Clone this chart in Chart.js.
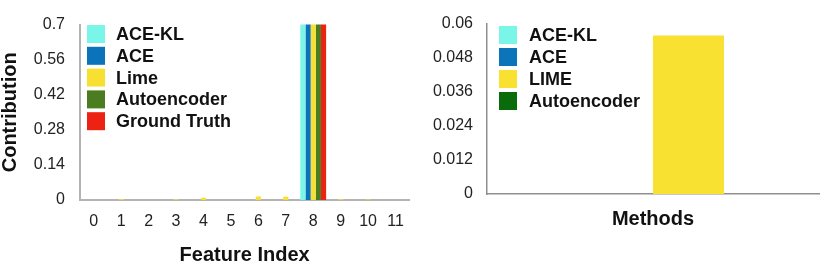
<!DOCTYPE html>
<html><head><meta charset="utf-8">
<script src="https://cdn.jsdelivr.net/npm/chart.js@4.4.0/dist/chart.umd.min.js"></script>
<style>
html,body{margin:0;padding:0;background:#fff;}
#wrap{position:relative;width:830px;height:276px;overflow:hidden;background:#fff;}
.box{position:absolute;top:0;height:276px;}
#left{left:0;width:416px;}
#right{left:415px;width:415px;}
</style></head><body>
<div id="wrap">
  <div class="box" id="left"><canvas id="c1" width="416" height="276"></canvas></div>
  <div class="box" id="right"><canvas id="c2" width="415" height="276"></canvas></div>
</div>
<script>
// ---- Left chart data ----
const featureIndex = ['0','1','2','3','4','5','6','7','8','9','10','11'];
const aceKL       = [0,0,0,0,0,0,0,0,1,0,0,0];
const ace         = [0,0,0,0,0,0,0,0,1,0,0,0];
const lime        = [0,0.003,0,0.003,0.009,0,0.014,0.013,1,0.003,0.002,0];
const autoencoder = [0,0,0,0,0,0,0,0,1,0,0,0];
const groundTruth = [0,0,0,0,0,0,0,0,1,0,0,0];
const contributionTicks = ['0','0.14','0.28','0.42','0.56','0.7'];

// ---- Right chart data ----
const methodsCategory   = [''];
const methodAceKL       = [0];
const methodAce         = [0];
const methodLime        = [0.0558];
const methodAutoencoder = [0];
const methodTicks = ['0','0.012','0.024','0.036','0.048','0.06'];

const FONT = '"Liberation Sans", Arial, Helvetica, sans-serif';
Chart.defaults.font.family = FONT;

const insideLegend = {
  id: 'insideLegend',
  afterDraw(chart, args, opts) {
    const ctx = chart.ctx;
    ctx.save();
    ctx.font = 'bold 18px ' + FONT;
    ctx.textBaseline = 'middle';
    ctx.textAlign = 'left';
    chart.data.datasets.forEach((ds, i) => {
      const y = opts.y + i * opts.step;
      ctx.fillStyle = ds.backgroundColor;
      ctx.fillRect(opts.x, y, opts.box, opts.box);
      ctx.fillStyle = '#111';
      ctx.fillText(ds.label, opts.textX, y + opts.box / 2 + 1);
    });
    ctx.restore();
  }
};

const axisBase = (color, width) => ({
  grid: { display: false, drawTicks: false },
  border: { display: true, color: color, width: width }
});

new Chart(document.getElementById('c1'), {
  type: 'bar',
  plugins: [insideLegend],
  data: {
    labels: featureIndex,
    datasets: [
      { label: 'ACE-KL', data: aceKL, backgroundColor: '#79f6e7' },
      { label: 'ACE', data: ace, backgroundColor: '#0b73b9' },
      { label: 'Lime', data: lime, backgroundColor: '#f8e032' },
      { label: 'Autoencoder', data: autoencoder, backgroundColor: '#4b7d20' },
      { label: 'Ground Truth', data: groundTruth, backgroundColor: '#ec2314' }
    ]
  },
  options: {
    responsive: false,
    animation: false,
    devicePixelRatio: 1,
    layout: { padding: { left: 0, right: 4, top: 24, bottom: 0 } },
    datasets: { bar: { categoryPercentage: 0.94, barPercentage: 1, borderWidth: 0 } },
    plugins: {
      legend: { display: false },
      tooltip: { enabled: false },
      insideLegend: { x: 87, y: 25, box: 18, step: 21.8, textX: 116 }
    },
    scales: {
      x: Object.assign(axisBase('#b3b3b3', 2), {
        ticks: { padding: 12, color: '#222', font: { size: 16 }, maxRotation: 0, autoSkip: false },
        title: { display: true, text: 'Feature Index', color: '#111',
                 font: { size: 20, weight: 'bold', lineHeight: 1 }, padding: { top: 0, bottom: 11 } },
        afterFit(s) { s.height = 76; }
      }),
      y: Object.assign(axisBase('#b3b3b3', 2), {
        min: 0, max: 0.7,
        ticks: { stepSize: 0.14, padding: 15, color: '#222', font: { size: 16 },
                 callback: (v, i) => contributionTicks[i] },
        title: { display: true, text: 'Contribution', color: '#111',
                 font: { size: 20, weight: 'bold', lineHeight: 1 }, padding: 0 },
        afterFit(s) { s.width = 80; }
      })
    }
  }
});

new Chart(document.getElementById('c2'), {
  type: 'bar',
  plugins: [insideLegend],
  data: {
    labels: methodsCategory,
    datasets: [
      { label: 'ACE-KL', data: methodAceKL, backgroundColor: '#79f6e7' },
      { label: 'ACE', data: methodAce, backgroundColor: '#0c75ba' },
      { label: 'LIME', data: methodLime, backgroundColor: '#f9e131' },
      { label: 'Autoencoder', data: methodAutoencoder, backgroundColor: '#0a6b0a' }
    ]
  },
  options: {
    responsive: false,
    animation: false,
    devicePixelRatio: 1,
    layout: { padding: { left: 0, right: 11, top: 19, bottom: 0 } },
    datasets: { bar: { categoryPercentage: 0.855, barPercentage: 1, borderWidth: 0 } },
    plugins: {
      legend: { display: false },
      tooltip: { enabled: false },
      insideLegend: { x: 84, y: 26, box: 18, step: 22, textX: 114 }
    },
    scales: {
      x: Object.assign(axisBase('#8f8f8f', 1.5), {
        ticks: { display: false },
        title: { display: true, text: 'Methods', color: '#111',
                 font: { size: 20, weight: 'bold', lineHeight: 1 }, padding: { top: 0, bottom: 47 } },
        afterFit(s) { s.height = 82; }
      }),
      y: Object.assign(axisBase('#8f8f8f', 1.5), {
        min: 0, max: 0.06,
        ticks: { stepSize: 0.012, padding: 14, color: '#222', font: { size: 16 },
                 callback: (v, i) => methodTicks[i] },
        afterFit(s) { s.width = 72; }
      })
    }
  }
});
</script>
</body></html>
